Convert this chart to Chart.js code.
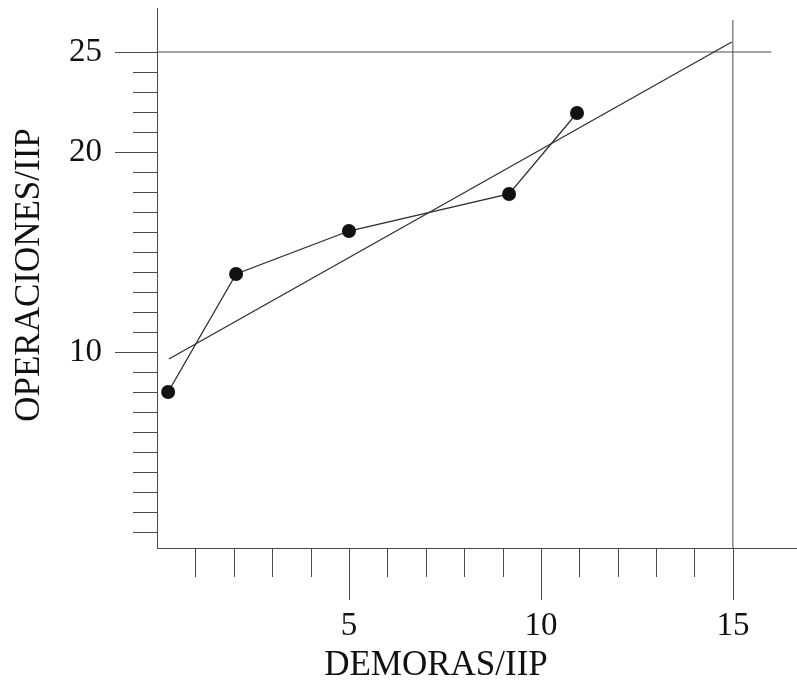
<!DOCTYPE html>
<html>
<head>
<meta charset="utf-8">
<script src="https://cdn.jsdelivr.net/npm/chart.js@4.4.0/dist/chart.umd.min.js"></script>
<style>
  body { margin: 0; background: #fff; }
  #grafica { display: block; }
</style>
</head>
<body>
<canvas id="grafica" width="797" height="684"></canvas>
<script>
// datos
const demoras = [0.29, 2.06, 5.0, 9.17, 10.94];
const operaciones = [8.0, 13.9, 16.05, 17.9, 21.95];

// recta de ajuste (extremos)
const ajusteX = [0.31, 14.97];
const ajusteY = [9.65, 25.5];

// lineas de referencia
const refHorizontal = 25;
const refVertical = 15;

// marcas de los ejes
const xEtiquetas = [5, 10, 15];
const xMenores = [1, 2, 3, 4, 6, 7, 8, 9, 11, 12, 13, 14];
const yEtiquetas = [10, 20, 25];
const yMenores = [1, 2, 3, 4, 5, 6, 7, 8, 9, 11, 12, 13, 14, 15, 16, 17, 18, 19, 21, 22, 23, 24];

const tituloX = "DEMORAS/IIP";
const tituloY = "OPERACIONES/IIP";

const fuente = "'Liberation Serif', 'DejaVu Serif', serif";
const colorEje = "#4a4a4a";
const colorLinea = "#2e2e2e";

// el padding de las etiquetas no debe mover el area del grafico
function sinPadding(s) {
    s.paddingTop = 0;
    s.paddingBottom = 0;
    s.paddingLeft = 0;
    s.paddingRight = 0;
}

// dibuja las marcas cortas/largas y los titulos de los ejes
const marcasPlugin = {
    id: "marcas",
    afterDraw(chart) {
        const ctx = chart.ctx;
        const sx = chart.scales.x;
        const sy = chart.scales.y;
        const izq = chart.chartArea.left;
        const abajo = chart.chartArea.bottom;

        ctx.save();
        ctx.strokeStyle = colorEje;
        ctx.lineWidth = 1;
        ctx.beginPath();
        yMenores.forEach(v => {
            let p = Math.round(sy.getPixelForValue(v)) + 0.5;
            ctx.moveTo(izq - 24, p);
            ctx.lineTo(izq, p);
        });
        yEtiquetas.forEach(v => {
            let p = Math.round(sy.getPixelForValue(v)) + 0.5;
            ctx.moveTo(izq - 42, p);
            ctx.lineTo(izq, p);
        });
        xMenores.forEach(v => {
            let p = Math.round(sx.getPixelForValue(v)) + 0.5;
            ctx.moveTo(p, abajo);
            ctx.lineTo(p, abajo + 29);
        });
        xEtiquetas.forEach(v => {
            let p = Math.round(sx.getPixelForValue(v)) + 0.5;
            ctx.moveTo(p, abajo);
            ctx.lineTo(p, abajo + 52);
        });
        ctx.stroke();

        ctx.fillStyle = "#111";
        ctx.font = "35px " + fuente;
        ctx.textAlign = "center";
        ctx.textBaseline = "middle";
        ctx.fillText(tituloX, 436, 666);
        ctx.translate(30, 275);
        ctx.rotate(-Math.PI / 2);
        ctx.fillText(tituloY, 0, 0);
        ctx.restore();
    }
};

let ctx = document.getElementById("grafica").getContext("2d");

new Chart(ctx, {
    type: "scatter",
    data: {
        datasets: [
            {
                data: demoras.map((x, i) => ({ x: x, y: operaciones[i] })),
                showLine: true,
                borderColor: colorLinea,
                borderWidth: 1.3,
                pointRadius: 7,
                pointBackgroundColor: "#111",
                pointBorderColor: "#111",
                pointBorderWidth: 0
            },
            {
                data: ajusteX.map((x, i) => ({ x: x, y: ajusteY[i] })),
                showLine: true,
                borderColor: colorLinea,
                borderWidth: 1.3,
                pointRadius: 0
            },
            {
                data: [{ x: 0, y: refHorizontal }, { x: 16, y: refHorizontal }],
                showLine: true,
                borderColor: colorEje,
                borderWidth: 1,
                pointRadius: 0
            },
            {
                data: [{ x: refVertical, y: 0.2 }, { x: refVertical, y: 26.6 }],
                showLine: true,
                borderColor: colorEje,
                borderWidth: 1,
                pointRadius: 0
            }
        ]
    },
    options: {
        responsive: false,
        animation: false,
        layout: { autoPadding: false, padding: { top: 8, right: 0, left: 0, bottom: 0 } },
        plugins: {
            legend: { display: false },
            tooltip: { enabled: false }
        },
        scales: {
            x: {
                type: "linear",
                min: 0,
                max: 16.67,
                afterBuildTicks: s => { s.ticks = xEtiquetas.map(v => ({ value: v })); },
                afterFit: s => { s.height = 136; sinPadding(s); },
                grid: { display: false, drawTicks: false },
                border: { display: true, color: colorEje, width: 1 },
                ticks: {
                    color: "#111",
                    padding: 59,
                    maxRotation: 0,
                    font: { family: fuente, size: 33 }
                }
            },
            y: {
                type: "linear",
                min: 0.2,
                max: 27.2,
                afterBuildTicks: s => { s.ticks = yEtiquetas.map(v => ({ value: v })); },
                afterFit: s => { s.width = 157; sinPadding(s); },
                grid: { display: false, drawTicks: false },
                border: { display: true, color: colorEje, width: 1 },
                ticks: {
                    color: "#111",
                    padding: 55,
                    font: { family: fuente, size: 33 }
                }
            }
        }
    },
    plugins: [marcasPlugin]
});
</script>
</body>
</html>
